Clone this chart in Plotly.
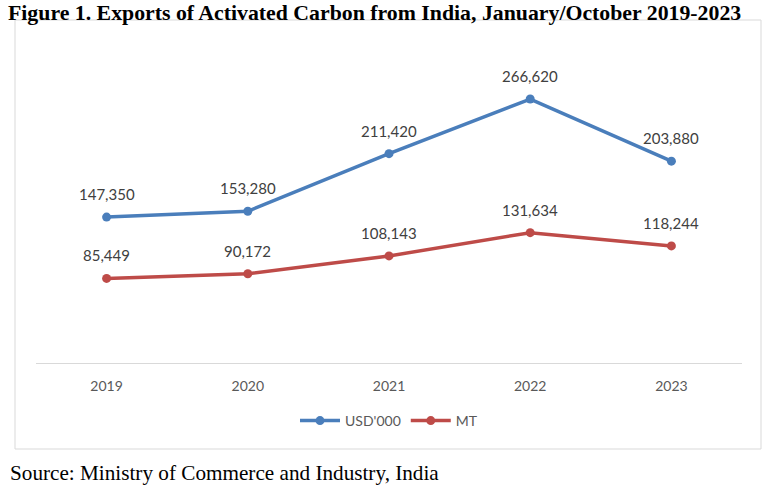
import plotly.graph_objects as go

years = ["2019", "2020", "2021", "2022", "2023"]
usd_000 = [147350, 153280, 211420, 266620, 203880]
mt = [85449, 90172, 108143, 131634, 118244]

W, H = 775, 486
L, R, T, B = 36, 33, 66, 123
pw, ph = W - L - R, H - T - B

def px_x(x):
    return (x - L) / pw

def px_y(y):
    return (H - B - y) / ph

xi = list(range(len(years)))

fig = go.Figure()
series = [("USD'000", usd_000, "#4a7ebb"), ("MT", mt, "#be4b48")]
for name, vals, col in series:
    fig.add_trace(go.Scatter(
        x=xi, y=vals, name=name, mode="lines+markers",
        line=dict(color=col, width=3.5),
        marker=dict(color=col, size=9),
    ))
    for xv, yv in zip(xi, vals):
        fig.add_annotation(
            x=xv, y=yv, text=f"{yv:,}", showarrow=False, yshift=23,
            xanchor="center",
            font=dict(family="Lato, Open Sans, sans-serif", size=15, color="#404040"),
        )

fig.add_shape(type="rect", xref="paper", yref="paper",
              x0=px_x(15), x1=px_x(761), y0=px_y(449), y1=px_y(20),
              line=dict(color="#d9d9d9", width=1), layer="below")

fig.add_annotation(
    xref="paper", yref="paper", x=px_x(8), y=px_y(473), xanchor="left", yanchor="middle",
    text="Source: Ministry of Commerce and Industry, India", showarrow=False,
    font=dict(family="Liberation Serif, serif", size=21.2, color="#000000"),
)

fig.update_layout(
    width=W, height=H,
    margin=dict(l=L, r=R, t=T, b=B, autoexpand=False),
    paper_bgcolor="white", plot_bgcolor="white",
    title=dict(
        text="<b>Figure 1. Exports of Activated Carbon from India, January/October 2019-2023</b>",
        xref="container", yref="container", x=8 / W, y=1 - 12 / H,
        xanchor="left", yanchor="middle",
        font=dict(family="Liberation Serif, serif", size=21.8, color="#000000"),
    ),
    xaxis=dict(
        range=[-0.5, len(years) - 0.5],
        tickmode="array", tickvals=xi, ticktext=years,
        showline=True, linecolor="#d9d9d9", linewidth=1, showgrid=False, zeroline=False,
        ticks="outside", ticklen=10, tickcolor="rgba(0,0,0,0)",
        tickfont=dict(family="Lato, Open Sans, sans-serif", size=14, color="#595959"),
        fixedrange=True,
    ),
    yaxis=dict(range=[0, 300000], visible=False, showgrid=False, zeroline=False),
    legend=dict(
        orientation="h", x=0.5, xanchor="center", y=px_y(421), yanchor="middle",
        font=dict(family="Lato, Open Sans, sans-serif", size=14, color="#595959"),
        itemwidth=40,
    ),
    showlegend=True,
)

fig.write_html("out.html", config={"displayModeBar": False},
               post_script="document.body.style.margin='0';")
